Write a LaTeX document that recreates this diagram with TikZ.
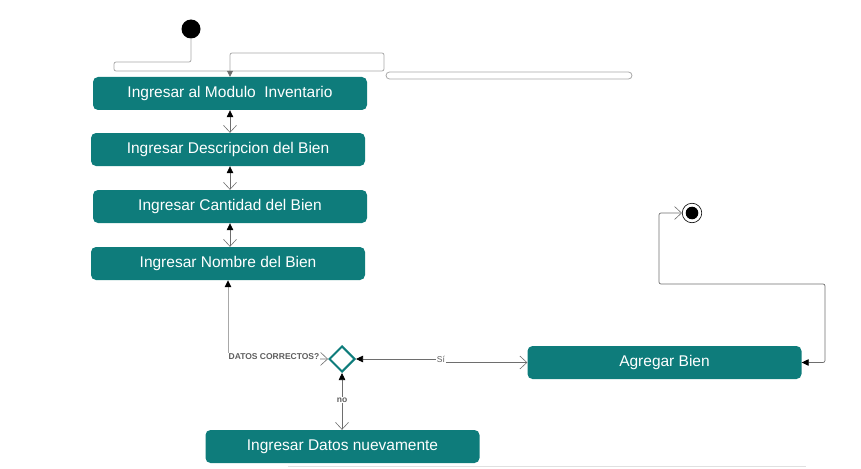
\documentclass[tikz,border=0pt]{standalone}
\usepackage{fontspec}
\setmainfont{Liberation Sans}
\usetikzlibrary{arrows.meta,shapes.geometric}
\definecolor{tealbox}{HTML}{0E7C7B}
\definecolor{lgray}{HTML}{A8A8A8}
\definecolor{cgray}{HTML}{6E6E6E}
\definecolor{lblgray}{HTML}{5E5E5E}
\tikzset{
  ftip/.tip={Triangle[length=7pt,width=6.5pt,black]},
  otip/.tip={Straight Barb[length=7pt,width=13pt,line width=0.6pt]},
  gtip/.tip={Triangle[length=6pt,width=6pt,cgray]}
}
\begin{document}
\begin{tikzpicture}[x=1pt,y=-1pt,
  act/.style={fill=tealbox, rounded corners=5pt, minimum width=274pt, minimum height=33pt,
    text=white, font=\fontsize{15.5}{17}\selectfont, inner sep=0pt},
  conn/.style={draw=cgray, line width=0.7pt},
  lbl/.style={fill=white, inner sep=0.6pt, text=lblgray, font=\bfseries\fontsize{8.5}{9}\selectfont}
]
\useasboundingbox (0,0) rectangle (861,468);

% nodes
\node[circle, fill=black, minimum size=19pt, inner sep=0pt] (st) at (191,29) {};
\node[act] (b1) at (230,93.5) {Ingresar al Modulo\ \ Inventario};
\node[act] (b2) at (228,149.5) {Ingresar Descripcion del Bien};
\node[act] (b3) at (230,206.5) {Ingresar Cantidad del Bien};
\node[act] (b4) at (228,263.5) {Ingresar Nombre del Bien};
\node[diamond, draw=tealbox, line width=2pt, fill=white, minimum size=26pt, inner sep=0pt] (d) at (342,359) {};
\node[act] (ag) at (664.5,362.5) {Agregar Bien};
\node[act] (dn) at (342.5,446.5) {Ingresar Datos nuevamente};
\node[circle, draw=black, fill=white, minimum size=19.5pt, inner sep=0pt, line width=0.6pt] (endc) at (692,213) {};
\fill[black] (endc.center) circle (6.3pt);

% start connector (odd routed line)
\coordinate (s1) at (191,62);
\coordinate (s2) at (114,62);
\coordinate (s3) at (114,71);
\coordinate (s4) at (384,71);
\coordinate (s5) at (384,53);
\coordinate (s6) at (230,53);
\draw[lgray, line width=0.8pt, rounded corners=2pt, -{gtip}]
  (st.south) -- (s1) -- (s2) -- (s3) -- (s4) -- (s5) -- (s6) -- (b1.north);
\draw[lgray, line width=0.8pt, rounded corners=3.5pt] (386,72) rectangle (632,79);

% between boxes
\draw[conn, {otip}-{ftip}] (b1.south |- b2.north) -- (b1.south);
\draw[conn, {otip}-{ftip}] (b3.north) -- (b3.north |- b2.south);
\draw[conn, {otip}-{ftip}] (b3.south |- b4.north) -- (b3.south);

% decision
\coordinate (k1) at (228,358);
\draw[draw=lgray, line width=1pt, {ftip}-] (b4.south) -- (k1);
\draw[conn, -{otip}] (k1) -- (d.west);
\node[lbl] (lq) at (274,357) {DATOS CORRECTOS?};

\coordinate (j1) at (440,359);
\coordinate (j2) at (440,362.5);
\draw[conn, {ftip}-{otip}] (d.east) -- (j1) -- (j2) -- (ag.west);
\node[lbl, font=\fontsize{8.5}{9}\selectfont] (ls) at (441,359) {Sí};

\draw[conn, {ftip}-{otip}] (d.south) -- (d.south |- dn.north);
\node[lbl] (ln) at (342,400) {no};

% end connector
\coordinate (e1) at (659,213);
\coordinate (e2) at (659,284);
\coordinate (e3) at (825,284);
\coordinate (e4) at (825,362.5);
\draw[conn, rounded corners=2pt, {otip}-{ftip}] (endc.west) -- (e1) -- (e2) -- (e3) -- (e4) -- (ag.east);

% bottom faint line
\draw[black!12, line width=1.5pt] (288,466.5) -- (806,466.5);
\end{tikzpicture}
\end{document}
